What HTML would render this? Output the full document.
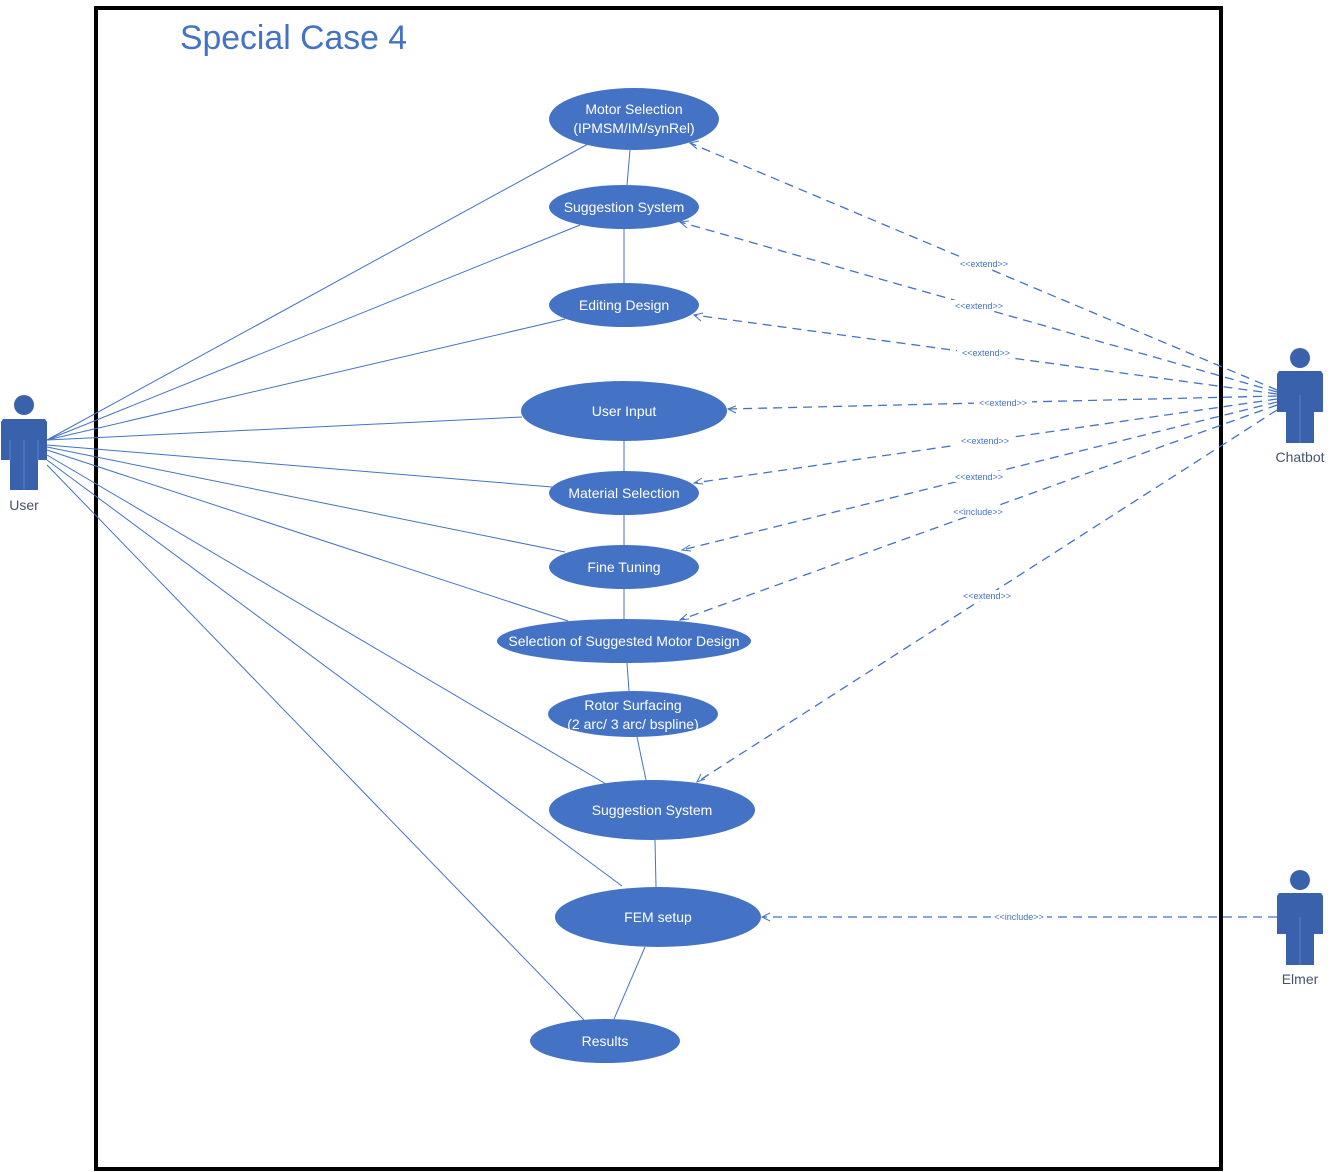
<!DOCTYPE html>
<html><head><style>body{margin:0;background:#fff}svg{display:block}</style></head><body>
<svg width="1335" height="1172" xmlns="http://www.w3.org/2000/svg" font-family="Liberation Sans, sans-serif">
<rect x="96" y="8" width="1125" height="1161" fill="none" stroke="#000" stroke-width="4"/>
<text x="180" y="49" font-size="34" fill="#4472C4" textLength="227" lengthAdjust="spacingAndGlyphs">Special Case 4</text>
<g stroke="#4472C4" stroke-width="1" fill="none">
<line x1="47" y1="440" x2="588" y2="144"/>
<line x1="47" y1="440" x2="580" y2="225"/>
<line x1="47" y1="440" x2="565" y2="319"/>
<line x1="47" y1="440" x2="522" y2="417"/>
<line x1="47" y1="445" x2="552" y2="487"/>
<line x1="47" y1="447" x2="565" y2="552"/>
<line x1="47" y1="450" x2="568" y2="621"/>
<line x1="47" y1="455" x2="606" y2="784"/>
<line x1="47" y1="460" x2="622" y2="886"/>
<line x1="47" y1="465" x2="584" y2="1020"/>
<line x1="630" y1="150" x2="627" y2="185"/>
<line x1="624" y1="229" x2="624" y2="283"/>
<line x1="624" y1="441" x2="624" y2="471"/>
<line x1="624" y1="515" x2="624" y2="545"/>
<line x1="624" y1="589" x2="624" y2="619"/>
<line x1="627" y1="663" x2="629" y2="691"/>
<line x1="637" y1="737" x2="646" y2="780"/>
<line x1="655" y1="840" x2="656" y2="887"/>
<line x1="645" y1="947" x2="614" y2="1019"/>
</g>
<g stroke="#4472C4" stroke-width="1.3" fill="none" stroke-dasharray="9,6">
<line x1="1277" y1="390" x2="690" y2="143"/>
<line x1="1277" y1="392" x2="680" y2="222"/>
<line x1="1277" y1="394" x2="694" y2="315"/>
<line x1="1277" y1="396" x2="728" y2="409"/>
<line x1="1277" y1="399" x2="694" y2="483"/>
<line x1="1277" y1="402" x2="682" y2="550"/>
<line x1="1277" y1="405" x2="680" y2="620"/>
<line x1="1277" y1="410" x2="697" y2="782"/>
<line x1="1277" y1="917" x2="762" y2="917"/>
</g>
<g stroke="#4472C4" stroke-width="1" fill="none">
<polyline points="699,141 690,143 697,149"/>
<polyline points="689,221 680,222 687,228"/>
<polyline points="703,313 694,315 701,321"/>
<polyline points="736,406 728,409 736,413"/>
<polyline points="702,478 694,483 703,484"/>
<polyline points="690,545 682,550 691,551"/>
<polyline points="687,614 680,620 689,619"/>
<polyline points="701,774 697,782 705,779"/>
<polyline points="770,913 762,917 770,921"/>
</g>
<g font-size="9" fill="#4472C4" text-anchor="middle">
<rect x="955" y="258" width="58" height="11" fill="#fff"/><text x="984" y="267">&lt;&lt;extend&gt;&gt;</text>
<rect x="950" y="300" width="58" height="11" fill="#fff"/><text x="979" y="309">&lt;&lt;extend&gt;&gt;</text>
<rect x="957" y="347" width="58" height="11" fill="#fff"/><text x="986" y="356">&lt;&lt;extend&gt;&gt;</text>
<rect x="974" y="397" width="58" height="11" fill="#fff"/><text x="1003" y="406">&lt;&lt;extend&gt;&gt;</text>
<rect x="956" y="435" width="58" height="11" fill="#fff"/><text x="985" y="444">&lt;&lt;extend&gt;&gt;</text>
<rect x="950" y="471" width="58" height="11" fill="#fff"/><text x="979" y="480">&lt;&lt;extend&gt;&gt;</text>
<rect x="950" y="506" width="56" height="11" fill="#fff"/><text x="978" y="515">&lt;&lt;include&gt;&gt;</text>
<rect x="958" y="590" width="58" height="11" fill="#fff"/><text x="987" y="599">&lt;&lt;extend&gt;&gt;</text>
<rect x="991" y="911" width="56" height="11" fill="#fff"/><text x="1019" y="920">&lt;&lt;include&gt;&gt;</text>
</g>
<g fill="#4472C4">
<ellipse cx="634" cy="119" rx="85" ry="31"/>
<ellipse cx="624" cy="207" rx="75" ry="22"/>
<ellipse cx="624" cy="305" rx="75" ry="22"/>
<ellipse cx="624" cy="411" rx="103" ry="30"/>
<ellipse cx="624" cy="493" rx="75" ry="22"/>
<ellipse cx="624" cy="567" rx="75" ry="22"/>
<ellipse cx="624" cy="641" rx="127" ry="22"/>
<ellipse cx="633" cy="714" rx="85" ry="23"/>
<ellipse cx="652" cy="810" rx="103" ry="30"/>
<ellipse cx="658" cy="917" rx="103" ry="30"/>
<ellipse cx="605" cy="1041" rx="75" ry="22"/>
</g>
<g fill="#fff" font-size="14" text-anchor="middle">
<text x="634" y="114">Motor Selection</text>
<text x="634" y="133">(IPMSM/IM/synRel)</text>
<text x="624" y="212">Suggestion System</text>
<text x="624" y="310">Editing Design</text>
<text x="624" y="416">User Input</text>
<text x="624" y="498">Material Selection</text>
<text x="624" y="572">Fine Tuning</text>
<text x="624" y="646">Selection of Suggested Motor Design</text>
<text x="633" y="710">Rotor Surfacing</text>
<text x="633" y="729">(2 arc/ 3 arc/ bspline)</text>
<text x="652" y="815">Suggestion System</text>
<text x="658" y="922">FEM setup</text>
<text x="605" y="1046">Results</text>
</g>
<g fill="#3A62AC">
<circle cx="24" cy="405" r="10"/>
<path d="M3,419 H45 L47,422 V460 H38 V490 H10 V460 H1 V422 Z"/>
<circle cx="1300" cy="358" r="10"/>
<path d="M1279,371 H1321 L1323,374 V412 H1314 V443 H1286 V412 H1277 V374 Z"/>
<circle cx="1300" cy="880" r="10"/>
<path d="M1279,893 H1321 L1323,896 V934 H1314 V965 H1286 V934 H1277 V896 Z"/>
</g>
<g stroke="#5a80c8" stroke-width="1"><line x1="24" y1="440" x2="24" y2="490"/><line x1="10" y1="440" x2="10" y2="460"/><line x1="38" y1="440" x2="38" y2="460"/>
<line x1="1300" y1="395" x2="1300" y2="443"/><line x1="1300" y1="917" x2="1300" y2="965"/></g>
<g fill="#44546A" font-size="14" text-anchor="middle">
<text x="24" y="510">User</text>
<text x="1300" y="462">Chatbot</text>
<text x="1300" y="984">Elmer</text>
</g>
</svg>
</body></html>
